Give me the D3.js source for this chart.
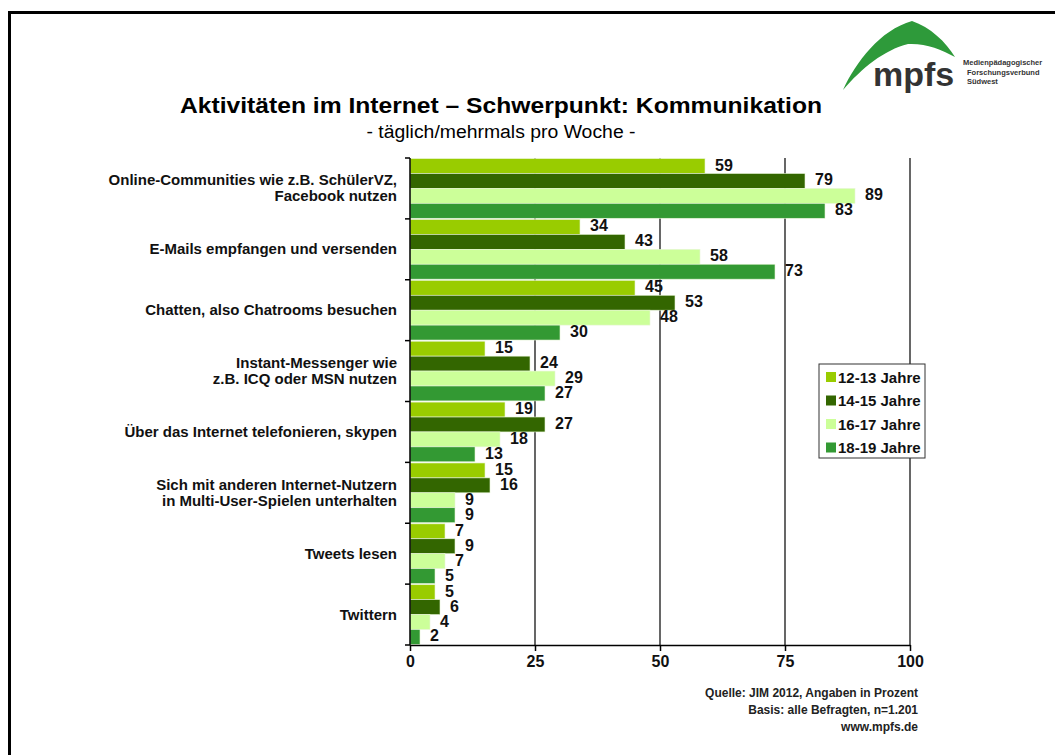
<!DOCTYPE html>
<html>
<head>
<meta charset="utf-8">
<script src="https://cdn.jsdelivr.net/npm/d3@7"></script>
<style>
  body { margin: 0; background: #fff; }
  svg { display: block; font-family: "Liberation Sans", Arial, sans-serif; }
</style>
</head>
<body>
<div id="chart"></div>
<script>
// data
var categories = [
    ["Online-Communities wie z.B. SchülerVZ,", "Facebook nutzen"],
    ["E-Mails empfangen und versenden"],
    ["Chatten, also Chatrooms besuchen"],
    ["Instant-Messenger wie", "z.B. ICQ oder MSN nutzen"],
    ["Über das Internet telefonieren, skypen"],
    ["Sich mit anderen Internet-Nutzern", "in Multi-User-Spielen unterhalten"],
    ["Tweets lesen"],
    ["Twittern"]
];
var seriesNames = ["12-13 Jahre", "14-15 Jahre", "16-17 Jahre", "18-19 Jahre"];
var age1213 = [59, 34, 45, 15, 19, 15, 7, 5];
var age1415 = [79, 43, 53, 24, 27, 16, 9, 6];
var age1617 = [89, 58, 48, 29, 18, 9, 7, 4];
var age1819 = [83, 73, 30, 27, 13, 9, 5, 2];
var xTicks = [0, 25, 50, 75, 100];
var sourceLines = ["Quelle: JIM 2012, Angaben in Prozent", "Basis: alle Befragten, n=1.201", "www.mpfs.de"];

var colors = ["#99cc00", "#336600", "#ccff99", "#339933"];
var allSeries = [age1213, age1415, age1617, age1819];

var W = 1055, H = 755;
var svg = d3.select("#chart").append("svg").attr("width", W).attr("height", H);

// frame
svg.append("rect").attr("x", 9.5).attr("y", 12.5).attr("width", 1200).attr("height", 900)
    .attr("fill", "none").attr("stroke", "#000").attr("stroke-width", 3);

// logo
var logo = svg.append("g");
logo.append("path")
    .attr("d", "M843,90 C856,62 880,30 912,21 C930,27 946,42 955,57 C941,49 925,43 908,44 C884,50 862,68 843,90 Z")
    .attr("fill", "#2e9a3a");
logo.append("text").attr("x", 873).attr("y", 86)
    .style("font-size", "34px").style("font-weight", "bold").attr("fill", "#333")
    .text("mpfs");
["Medienpädagogischer", "Forschungsverbund", "Südwest"].forEach(function (t, i) {
    logo.append("text").attr("x", 963 + (i ? 4 : 0)).attr("y", 65 + i * 9.5)
        .style("font-size", "7.5px").style("font-weight", "bold").attr("fill", "#333").text(t);
});

// titles
svg.append("text").attr("x", 501).attr("y", 113).attr("text-anchor", "middle")
    .attr("textLength", 642).attr("lengthAdjust", "spacingAndGlyphs")
    .style("font-size", "22px").style("font-weight", "bold").text("Aktivitäten im Internet – Schwerpunkt: Kommunikation");
svg.append("text").attr("x", 501).attr("y", 138).attr("text-anchor", "middle")
    .attr("textLength", 269).attr("lengthAdjust", "spacingAndGlyphs")
    .style("font-size", "18px").text("- täglich/mehrmals pro Woche -");

var margin = {top: 158, left: 410};
var width = 500, height = 487;

var g = svg.append("g").attr("transform", "translate(" + margin.left + "," + margin.top + ")");

var x = d3.scaleLinear().domain([0, 100]).range([0, width]);
var y = d3.scaleBand().domain(d3.range(categories.length)).range([0, height]).padding(0);
var ySub = d3.scaleBand().domain(d3.range(seriesNames.length)).range([0, y.bandwidth()])
    .paddingInner(0).paddingOuter(0.04);

// gridlines
g.selectAll(".grid").data(xTicks.slice(1)).enter().append("line")
    .attr("x1", function (d) { return x(d); }).attr("x2", function (d) { return x(d); })
    .attr("y1", 0).attr("y2", height)
    .attr("stroke", "#000").attr("stroke-width", 1.2);

// bars
categories.forEach(function (c, i) {
    var band = g.append("g").attr("transform", "translate(0," + y(i) + ")");
    allSeries.forEach(function (s, j) {
        band.append("rect")
            .attr("x", 0).attr("y", ySub(j))
            .attr("width", x(s[i]) - x(0)).attr("height", ySub.bandwidth())
            .attr("fill", colors[j]).attr("stroke", "#e8f5d8").attr("stroke-width", 0.6);
        band.append("text")
            .attr("x", x(s[i]) + 10).attr("y", ySub(j) + ySub.bandwidth() / 2 + 4.5)
            .style("font-size", "16px").style("font-weight", "bold").attr("fill", "#111")
            .text(s[i]);
    });
    var lbl = band.append("text").attr("text-anchor", "end")
        .style("font-size", "15px").style("font-weight", "bold").attr("fill", "#111");
    c.forEach(function (line, k) {
        lbl.append("tspan").attr("x", -13)
            .attr("y", y.bandwidth() / 2 + 5 + (k - (c.length - 1) / 2) * 16)
            .text(line);
    });
});

// y axis with ticks at band edges
g.append("line").attr("x1", 0).attr("x2", 0).attr("y1", 0).attr("y2", height)
    .attr("stroke", "#000").attr("stroke-width", 1.5);
g.selectAll(".ytick").data(d3.range(categories.length + 1)).enter().append("line")
    .attr("x1", -5).attr("x2", 0)
    .attr("y1", function (d) { return d * y.step(); }).attr("y2", function (d) { return d * y.step(); })
    .attr("stroke", "#000").attr("stroke-width", 1.5);

// x axis
var xAxis = g.append("g").attr("transform", "translate(0," + height + ")")
    .call(d3.axisBottom(x).tickValues(xTicks).tickSize(6).tickSizeOuter(0));
xAxis.select(".domain").attr("stroke", "#000").attr("stroke-width", 1.5);
xAxis.selectAll(".tick line").attr("stroke", "#000").attr("stroke-width", 1.5);
xAxis.selectAll("text").attr("y", 11).attr("dy", ".71em")
    .style("font-size", "16px").style("font-weight", "bold").style("font-family", "Liberation Sans, Arial, sans-serif")
    .attr("fill", "#111");

// legend
var legend = svg.append("g").attr("transform", "translate(819,364)");
legend.append("rect").attr("width", 106).attr("height", 94)
    .attr("fill", "#fff").attr("stroke", "#333").attr("stroke-width", 1);
seriesNames.forEach(function (n, j) {
    legend.append("rect").attr("x", 7).attr("y", 8 + j * 23.5).attr("width", 10).attr("height", 10)
        .attr("fill", colors[j]);
    legend.append("text").attr("x", 19).attr("y", 18.5 + j * 23.5)
        .style("font-size", "15px").style("font-weight", "bold").attr("fill", "#111").text(n);
});

// source
sourceLines.forEach(function (t, i) {
    svg.append("text").attr("x", 918).attr("y", 697 + i * 17).attr("text-anchor", "end")
        .style("font-size", "12px").style("font-weight", "bold").attr("fill", "#222").text(t);
});
</script>
</body>
</html>
